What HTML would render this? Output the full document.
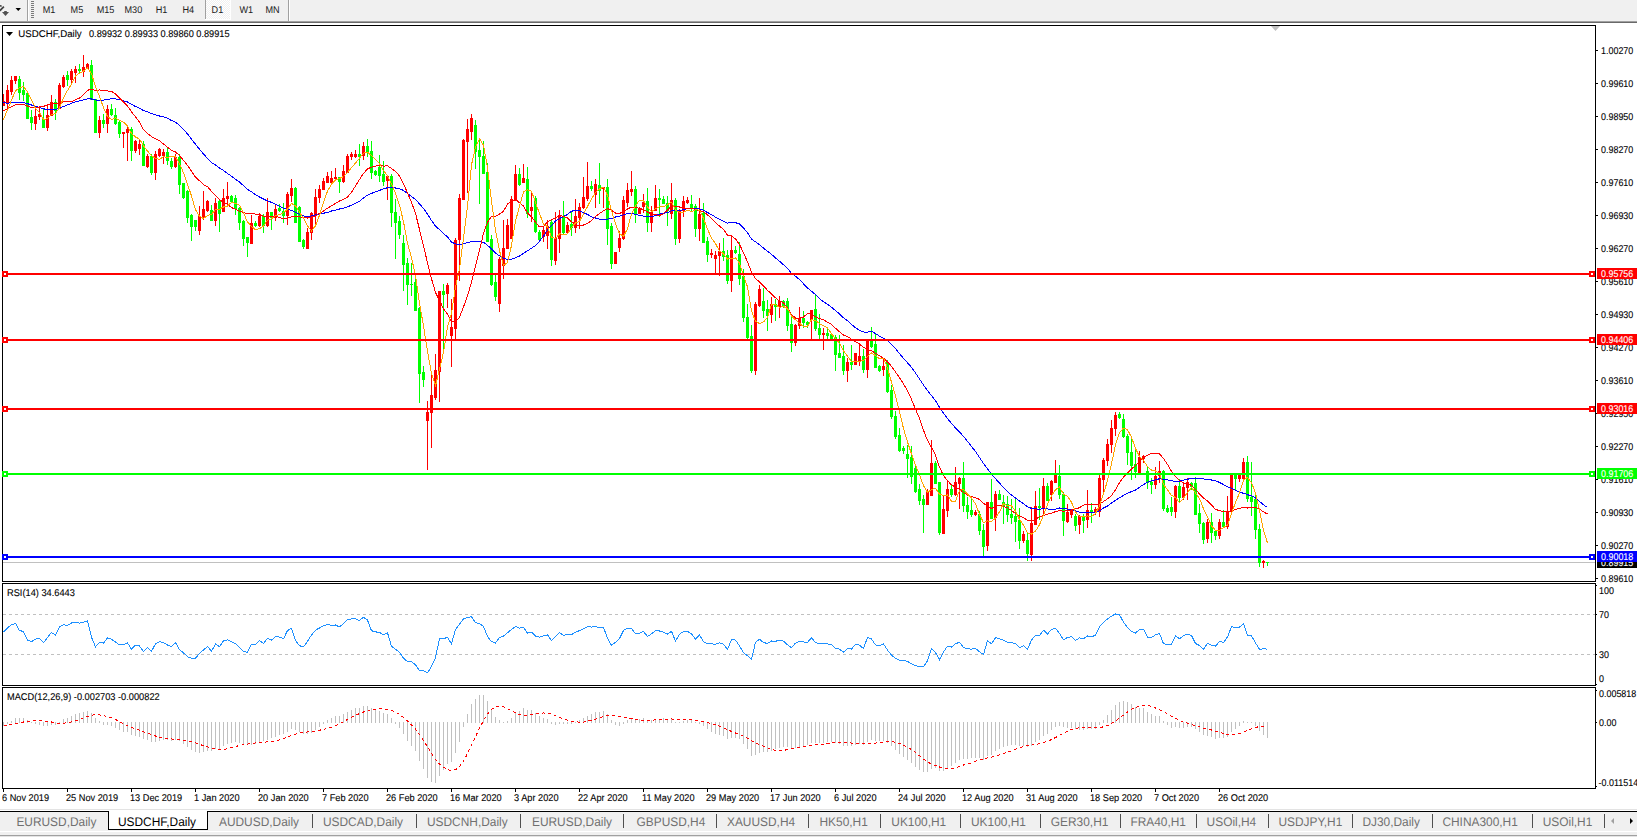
<!DOCTYPE html><html><head><meta charset="utf-8"><style>
html,body{margin:0;padding:0;background:#fff;width:1637px;height:837px;overflow:hidden}
svg{position:absolute;left:0;top:0;display:block}
text{font-family:"Liberation Sans", sans-serif}
</style></head><body>
<svg width="1637" height="837" viewBox="0 0 1637 837">
<rect x="0" y="0" width="1637" height="21" fill="#F0F0F0"/>
<rect x="0" y="21" width="1637" height="1" fill="#A0A0A0"/>
<rect x="0" y="22" width="1637" height="1" fill="#696969"/>
<g shape-rendering="crispEdges">
<rect x="27" y="0" width="1" height="21" fill="#A0A0A0"/>
<rect x="28" y="0" width="1" height="21" fill="#FFFFFF"/>
<rect x="31" y="1" width="3" height="1" fill="#7A7A7A"/>
<rect x="31" y="3" width="3" height="1" fill="#7A7A7A"/>
<rect x="31" y="5" width="3" height="1" fill="#7A7A7A"/>
<rect x="31" y="7" width="3" height="1" fill="#7A7A7A"/>
<rect x="31" y="9" width="3" height="1" fill="#7A7A7A"/>
<rect x="31" y="11" width="3" height="1" fill="#7A7A7A"/>
<rect x="31" y="13" width="3" height="1" fill="#7A7A7A"/>
<rect x="31" y="15" width="3" height="1" fill="#7A7A7A"/>
<rect x="31" y="17" width="3" height="1" fill="#7A7A7A"/>
<defs><pattern id="dith" x="0" y="0" width="2" height="2" patternUnits="userSpaceOnUse"><rect x="0" y="0" width="2" height="2" fill="#F0F0F0"/><rect x="0" y="0" width="1" height="1" fill="#FFFFFF"/><rect x="1" y="1" width="1" height="1" fill="#FFFFFF"/></pattern></defs>
<rect x="205" y="0" width="1" height="19" fill="#A0A0A0"/>
<rect x="206" y="0" width="24" height="19" fill="url(#dith)"/>
<rect x="230" y="0" width="1" height="20" fill="#FFFFFF"/>
<rect x="205" y="19" width="26" height="1" fill="#FFFFFF"/>
<rect x="288" y="0" width="1" height="21" fill="#A0A0A0"/>
<rect x="289" y="0" width="1" height="21" fill="#FFFFFF"/>
</g>
<path d="M-0.3,10.8 L3.9,6.6" stroke="#404040" stroke-width="1.7" fill="none"/>
<path d="M-0.5,5 L1.5,5.2 L2,6.6 L-0.5,6.8 Z" fill="#404040"/>
<path d="M4.2,11 L6.8,11 L6.8,12 L9,12 L5.5,16 L2,12 L4.2,12 Z" fill="#505050"/>
<path d="M15.5,8 L21,8 L18.25,11 Z" fill="#000"/>
<text transform="translate(42.7,13) scale(0.93,1)" font-size="9.8" fill="#202020" text-rendering="geometricPrecision">M1</text>
<text transform="translate(70.6,13) scale(0.93,1)" font-size="9.8" fill="#202020" text-rendering="geometricPrecision">M5</text>
<text transform="translate(96.7,13) scale(0.93,1)" font-size="9.8" fill="#202020" text-rendering="geometricPrecision">M15</text>
<text transform="translate(124.5,13) scale(0.93,1)" font-size="9.8" fill="#202020" text-rendering="geometricPrecision">M30</text>
<text transform="translate(155.7,13) scale(0.93,1)" font-size="9.8" fill="#202020" text-rendering="geometricPrecision">H1</text>
<text transform="translate(182.5,13) scale(0.93,1)" font-size="9.8" fill="#202020" text-rendering="geometricPrecision">H4</text>
<text transform="translate(211.6,13) scale(0.93,1)" font-size="9.8" fill="#202020" text-rendering="geometricPrecision">D1</text>
<text transform="translate(239.4,13) scale(0.93,1)" font-size="9.8" fill="#202020" text-rendering="geometricPrecision">W1</text>
<text transform="translate(265.5,13) scale(0.93,1)" font-size="9.8" fill="#202020" text-rendering="geometricPrecision">MN</text>
<g shape-rendering="crispEdges" fill="none" stroke="#000" stroke-width="1">
<path d="M2.5,25.5 H1595.5 V581.5 H2.5 Z"/>
<path d="M2.5,583.5 H1595.5 V685.5 H2.5 Z"/>
<path d="M2.5,687.5 H1595.5 V788.5 H2.5 Z"/>
</g>
<path d="M1271,26 L1280,26 L1275.5,31 Z" fill="#C0C0C0"/>
<path d="M6,32 L13,32 L9.5,36 Z" fill="#000"/>
<text transform="translate(18.3,37) scale(0.987,1)" font-size="9.8" fill="#000" stroke="#000" stroke-width="0.1" text-rendering="geometricPrecision">USDCHF,Daily</text>
<text transform="translate(89,37) scale(0.938,1)" font-size="9.8" fill="#000" stroke="#000" stroke-width="0.1" text-rendering="geometricPrecision">0.89932 0.89933 0.89860 0.89915</text>
<defs><clipPath id="cm"><rect x="3" y="26" width="1592" height="555"/></clipPath>
<clipPath id="cr"><rect x="3" y="584" width="1592" height="101"/></clipPath>
<clipPath id="cd"><rect x="3" y="688" width="1592" height="100"/></clipPath></defs>
<g clip-path="url(#cm)" shape-rendering="crispEdges">
<rect x="3" y="562" width="1592" height="1" fill="#C0C0C0"/>
</g>
<g clip-path="url(#cm)" shape-rendering="crispEdges">
<path fill="#00FF00" d="M19,76h1v24h-1zM18,79h3v14h-3zM23,82h1v19h-1zM22,90h3v5h-3zM27,93h1v26h-1zM26,93h3v26h-3zM31,110h1v20h-1zM30,117h3v6h-3zM43,108h1v20h-1zM42,119h3v9h-3zM55,99h1v21h-1zM54,102h3v9h-3zM67,71h1v15h-1zM66,75h3v5h-3zM79,64h1v10h-1zM78,69h3v2h-3zM91,60h1v40h-1zM90,65h3v35h-3zM95,99h1v34h-1zM94,99h3v34h-3zM103,114h1v14h-1zM102,120h3v4h-3zM111,104h1v12h-1zM110,109h3v6h-3zM115,108h1v17h-1zM114,115h3v9h-3zM119,120h1v18h-1zM118,122h3v12h-3zM131,127h1v34h-1zM130,129h3v22h-3zM143,141h1v25h-1zM142,144h3v22h-3zM151,154h1v21h-1zM150,156h3v17h-3zM167,148h1v17h-1zM166,152h3v9h-3zM171,158h1v11h-1zM170,161h3v6h-3zM179,154h1v40h-1zM178,157h3v28h-3zM183,183h1v16h-1zM182,183h3v15h-3zM187,190h1v33h-1zM186,191h3v27h-3zM191,214h1v27h-1zM190,215h3v12h-3zM195,220h1v11h-1zM194,220h3v7h-3zM211,205h1v16h-1zM210,210h3v11h-3zM219,199h1v33h-1zM218,201h3v13h-3zM231,195h1v8h-1zM230,196h3v6h-3zM235,195h1v20h-1zM234,198h3v11h-3zM239,207h1v23h-1zM238,208h3v15h-3zM243,220h1v26h-1zM242,221h3v18h-3zM247,237h1v20h-1zM246,237h3v6h-3zM255,221h1v6h-1zM254,223h3v3h-3zM263,214h1v19h-1zM262,216h3v10h-3zM271,212h1v18h-1zM270,212h3v6h-3zM279,204h1v8h-1zM278,208h3v3h-3zM283,203h1v20h-1zM282,211h3v5h-3zM295,187h1v36h-1zM294,188h3v35h-3zM299,206h1v36h-1zM298,207h3v35h-3zM303,239h1v10h-1zM302,240h3v7h-3zM339,177h1v16h-1zM338,177h3v5h-3zM359,144h1v22h-1zM358,154h3v3h-3zM367,139h1v18h-1zM366,146h3v6h-3zM371,141h1v38h-1zM370,151h3v22h-3zM375,170h1v6h-1zM374,171h3v4h-3zM379,155h1v27h-1zM378,167h3v9h-3zM383,161h1v25h-1zM382,174h3v8h-3zM391,174h1v53h-1zM390,176h3v37h-3zM395,199h1v60h-1zM394,212h3v11h-3zM399,216h1v23h-1zM398,221h3v14h-3zM403,235h1v56h-1zM402,243h3v22h-3zM407,258h1v47h-1zM406,263h3v22h-3zM411,263h1v33h-1zM410,284h3v1h-3zM415,279h1v32h-1zM414,282h3v29h-3zM419,307h1v96h-1zM418,308h3v66h-3zM423,366h1v21h-1zM422,372h3v8h-3zM443,284h1v66h-1zM442,291h3v4h-3zM475,120h1v49h-1zM474,125h3v27h-3zM479,138h1v66h-1zM478,150h3v7h-3zM483,141h1v33h-1zM482,156h3v18h-3zM487,163h1v79h-1zM486,172h3v70h-3zM491,235h1v51h-1zM490,239h3v46h-3zM495,275h1v26h-1zM494,282h3v15h-3zM519,168h1v18h-1zM518,174h3v11h-3zM527,167h1v51h-1zM526,179h3v35h-3zM535,196h1v37h-1zM534,198h3v34h-3zM539,230h1v10h-1zM538,232h3v8h-3zM551,220h1v46h-1zM550,222h3v38h-3zM563,201h1v34h-1zM562,217h3v16h-3zM571,212h1v24h-1zM570,224h3v4h-3zM591,181h1v10h-1zM590,186h3v3h-3zM599,163h1v41h-1zM598,185h3v6h-3zM607,179h1v66h-1zM606,187h3v42h-3zM611,223h1v46h-1zM610,226h3v38h-3zM635,186h1v37h-1zM634,189h3v25h-3zM647,188h1v44h-1zM646,201h3v22h-3zM659,189h1v28h-1zM658,198h3v2h-3zM663,196h1v8h-1zM662,199h3v5h-3zM667,196h1v30h-1zM666,203h3v8h-3zM675,198h1v47h-1zM674,200h3v39h-3zM691,195h1v16h-1zM690,204h3v5h-3zM695,204h1v33h-1zM694,206h3v23h-3zM703,203h1v40h-1zM702,213h3v30h-3zM707,237h1v25h-1zM706,241h3v14h-3zM723,238h1v23h-1zM722,251h3v6h-3zM727,250h1v34h-1zM726,255h3v26h-3zM735,246h1v8h-1zM734,250h3v3h-3zM739,242h1v43h-1zM738,254h3v25h-3zM743,269h1v53h-1zM742,276h3v42h-3zM747,304h1v36h-1zM746,317h3v21h-3zM751,325h1v48h-1zM750,336h3v35h-3zM763,288h1v30h-1zM762,301h3v10h-3zM767,300h1v31h-1zM766,309h3v7h-3zM775,299h1v22h-1zM774,304h3v3h-3zM783,300h1v8h-1zM782,301h3v6h-3zM787,298h1v33h-1zM786,301h3v25h-3zM791,317h1v35h-1zM790,324h3v19h-3zM803,311h1v17h-1zM802,318h3v5h-3zM807,321h1v7h-1zM806,322h3v3h-3zM815,295h1v36h-1zM814,309h3v20h-3zM819,314h1v26h-1zM818,328h3v7h-3zM827,327h1v13h-1zM826,333h3v3h-3zM831,334h1v6h-1zM830,334h3v5h-3zM835,335h1v36h-1zM834,337h3v18h-3zM839,335h1v23h-1zM838,353h3v5h-3zM843,345h1v30h-1zM842,356h3v15h-3zM851,345h1v25h-1zM850,362h3v3h-3zM863,349h1v24h-1zM862,356h3v14h-3zM871,327h1v21h-1zM870,341h3v6h-3zM875,334h1v34h-1zM874,344h3v24h-3zM879,365h1v7h-1zM878,366h3v5h-3zM887,360h1v33h-1zM886,362h3v30h-3zM891,385h1v34h-1zM890,390h3v27h-3zM895,411h1v28h-1zM894,416h3v21h-3zM899,428h1v24h-1zM898,435h3v16h-3zM903,446h1v8h-1zM902,448h3v3h-3zM907,445h1v33h-1zM906,454h3v5h-3zM911,446h1v38h-1zM910,457h3v20h-3zM915,466h1v27h-1zM914,468h3v24h-3zM919,484h1v21h-1zM918,489h3v12h-3zM923,495h1v38h-1zM922,499h3v6h-3zM935,461h1v23h-1zM934,463h3v21h-3zM939,482h1v53h-1zM938,482h3v51h-3zM951,485h1v12h-1zM950,489h3v6h-3zM963,462h1v50h-1zM962,478h3v28h-3zM967,497h1v22h-1zM966,505h3v7h-3zM971,499h1v18h-1zM970,510h3v5h-3zM979,511h1v24h-1zM978,514h3v17h-3zM983,524h1v32h-1zM982,530h3v17h-3zM991,479h1v40h-1zM990,502h3v17h-3zM999,490h1v10h-1zM998,494h3v6h-3zM1003,495h1v29h-1zM1002,502h3v5h-3zM1007,496h1v26h-1zM1006,504h3v11h-3zM1011,499h1v25h-1zM1010,514h3v4h-3zM1015,498h1v44h-1zM1014,516h3v6h-3zM1019,508h1v41h-1zM1018,520h3v21h-3zM1027,532h1v29h-1zM1026,540h3v14h-3zM1039,488h1v32h-1zM1038,506h3v2h-3zM1047,483h1v18h-1zM1046,486h3v15h-3zM1059,465h1v34h-1zM1058,476h3v19h-3zM1063,492h1v44h-1zM1062,494h3v27h-3zM1075,514h1v17h-1zM1074,516h3v10h-3zM1083,514h1v19h-1zM1082,516h3v5h-3zM1091,503h1v20h-1zM1090,510h3v3h-3zM1119,412h1v7h-1zM1118,414h3v4h-3zM1123,414h1v24h-1zM1122,419h3v18h-3zM1127,434h1v31h-1zM1126,436h3v17h-3zM1131,439h1v41h-1zM1130,452h3v14h-3zM1135,450h1v28h-1zM1134,464h3v8h-3zM1147,467h1v22h-1zM1146,471h3v12h-3zM1151,478h1v16h-1zM1150,482h3v3h-3zM1163,470h1v41h-1zM1162,471h3v38h-3zM1167,505h1v8h-1zM1166,508h3v4h-3zM1171,497h1v19h-1zM1170,507h3v5h-3zM1179,479h1v23h-1zM1178,486h3v12h-3zM1191,482h1v8h-1zM1190,483h3v4h-3zM1195,477h1v38h-1zM1194,483h3v32h-3zM1199,504h1v29h-1zM1198,513h3v11h-3zM1203,522h1v22h-1zM1202,523h3v17h-3zM1211,513h1v30h-1zM1210,522h3v11h-3zM1215,530h1v10h-1zM1214,531h3v5h-3zM1223,510h1v18h-1zM1222,522h3v5h-3zM1235,474h1v16h-1zM1234,475h3v4h-3zM1247,456h1v46h-1zM1246,462h3v37h-3zM1251,462h1v54h-1zM1250,497h3v5h-3zM1255,495h1v44h-1zM1254,499h3v31h-3zM1259,524h1v43h-1zM1258,529h3v34h-3zM1267,562h1v4h-1zM1266,562h3v1h-3z"/>
<path fill="#FF0000" d="M3,94h1v12h-1zM2,101h3v5h-3zM7,85h1v24h-1zM6,90h3v13h-3zM11,76h1v19h-1zM10,80h3v12h-3zM15,76h1v8h-1zM14,76h3v5h-3zM35,108h1v22h-1zM34,116h3v8h-3zM39,108h1v12h-1zM38,114h3v3h-3zM47,104h1v27h-1zM46,115h3v13h-3zM51,95h1v21h-1zM50,102h3v14h-3zM59,83h1v26h-1zM58,85h3v24h-3zM63,75h1v13h-1zM62,77h3v10h-3zM71,69h1v14h-1zM70,71h3v9h-3zM75,66h1v17h-1zM74,69h3v4h-3zM83,55h1v22h-1zM82,67h3v5h-3zM87,63h1v6h-1zM86,64h3v5h-3zM99,116h1v22h-1zM98,120h3v13h-3zM107,105h1v28h-1zM106,109h3v15h-3zM123,132h1v16h-1zM122,132h3v2h-3zM127,127h1v34h-1zM126,129h3v4h-3zM135,140h1v13h-1zM134,141h3v10h-3zM139,140h1v15h-1zM138,144h3v5h-3zM147,154h1v14h-1zM146,156h3v11h-3zM155,151h1v29h-1zM154,154h3v19h-3zM159,148h1v9h-1zM158,149h3v7h-3zM163,149h1v15h-1zM162,152h3v4h-3zM175,154h1v14h-1zM174,157h3v10h-3zM199,206h1v29h-1zM198,216h3v15h-3zM203,191h1v29h-1zM202,209h3v9h-3zM207,200h1v12h-1zM206,201h3v10h-3zM215,198h1v28h-1zM214,203h3v18h-3zM223,189h1v23h-1zM222,198h3v14h-3zM227,182h1v23h-1zM226,196h3v3h-3zM251,215h1v29h-1zM250,223h3v21h-3zM259,213h1v14h-1zM258,216h3v10h-3zM267,198h1v29h-1zM266,212h3v14h-3zM275,205h1v16h-1zM274,209h3v9h-3zM287,192h1v33h-1zM286,194h3v22h-3zM291,179h1v23h-1zM290,188h3v8h-3zM307,228h1v21h-1zM306,232h3v17h-3zM311,212h1v28h-1zM310,213h3v20h-3zM315,189h1v35h-1zM314,197h3v19h-3zM319,185h1v18h-1zM318,189h3v9h-3zM323,178h1v12h-1zM322,181h3v9h-3zM327,172h1v11h-1zM326,176h3v7h-3zM331,171h1v12h-1zM330,178h3v5h-3zM335,168h1v13h-1zM334,177h3v2h-3zM343,165h1v18h-1zM342,171h3v11h-3zM347,154h1v19h-1zM346,156h3v17h-3zM351,152h1v8h-1zM350,154h3v3h-3zM355,150h1v8h-1zM354,154h3v3h-3zM363,142h1v18h-1zM362,146h3v10h-3zM387,175h1v25h-1zM386,176h3v5h-3zM427,401h1v69h-1zM426,412h3v9h-3zM431,375h1v73h-1zM430,395h3v18h-3zM435,354h1v46h-1zM434,370h3v28h-3zM439,291h1v111h-1zM438,291h3v81h-3zM447,283h1v25h-1zM446,285h3v9h-3zM451,299h1v68h-1zM450,327h3v9h-3zM455,238h1v102h-1zM454,240h3v89h-3zM459,194h1v87h-1zM458,198h3v42h-3zM463,139h1v61h-1zM462,140h3v60h-3zM467,119h1v74h-1zM466,129h3v13h-3zM471,114h1v26h-1zM470,118h3v14h-3zM499,257h1v55h-1zM498,259h3v45h-3zM503,220h1v59h-1zM502,248h3v18h-3zM507,219h1v30h-1zM506,225h3v24h-3zM511,196h1v43h-1zM510,199h3v40h-3zM515,165h1v36h-1zM514,174h3v27h-3zM523,164h1v19h-1zM522,178h3v5h-3zM531,192h1v30h-1zM530,207h3v4h-3zM543,226h1v16h-1zM542,230h3v7h-3zM547,220h1v29h-1zM546,226h3v10h-3zM555,212h1v53h-1zM554,238h3v23h-3zM559,210h1v43h-1zM558,215h3v24h-3zM567,222h1v11h-1zM566,225h3v8h-3zM575,199h1v34h-1zM574,216h3v12h-3zM579,203h1v26h-1zM578,207h3v11h-3zM583,177h1v32h-1zM582,197h3v11h-3zM587,162h1v39h-1zM586,186h3v13h-3zM595,179h1v29h-1zM594,184h3v11h-3zM603,187h1v21h-1zM602,187h3v2h-3zM615,252h1v12h-1zM614,252h3v12h-3zM619,231h1v21h-1zM618,238h3v10h-3zM623,196h1v44h-1zM622,200h3v39h-3zM627,183h1v24h-1zM626,190h3v13h-3zM631,171h1v25h-1zM630,189h3v3h-3zM639,207h1v7h-1zM638,209h3v5h-3zM643,194h1v19h-1zM642,202h3v5h-3zM651,206h1v26h-1zM650,212h3v11h-3zM655,185h1v26h-1zM654,198h3v13h-3zM671,183h1v36h-1zM670,200h3v14h-3zM679,209h1v34h-1zM678,211h3v28h-3zM683,196h1v21h-1zM682,201h3v10h-3zM687,197h1v7h-1zM686,200h3v3h-3zM699,198h1v43h-1zM698,214h3v15h-3zM711,249h1v9h-1zM710,253h3v2h-3zM715,251h1v24h-1zM714,255h3v4h-3zM719,243h1v33h-1zM718,251h3v5h-3zM731,236h1v56h-1zM730,250h3v31h-3zM755,302h1v73h-1zM754,304h3v67h-3zM759,285h1v22h-1zM758,289h3v17h-3zM771,297h1v26h-1zM770,304h3v11h-3zM779,296h1v22h-1zM778,301h3v6h-3zM795,324h1v22h-1zM794,325h3v18h-3zM799,307h1v22h-1zM798,318h3v8h-3zM811,310h1v31h-1zM810,310h3v10h-3zM823,328h1v22h-1zM822,333h3v2h-3zM847,358h1v24h-1zM846,362h3v9h-3zM855,353h1v12h-1zM854,353h3v12h-3zM859,343h1v23h-1zM858,356h3v5h-3zM867,340h1v38h-1zM866,341h3v29h-3zM883,358h1v18h-1zM882,366h3v4h-3zM927,489h1v16h-1zM926,491h3v14h-3zM931,440h1v56h-1zM930,463h3v33h-3zM943,496h1v38h-1zM942,509h3v25h-3zM947,481h1v36h-1zM946,489h3v22h-3zM955,467h1v29h-1zM954,482h3v13h-3zM959,477h1v32h-1zM958,478h3v6h-3zM975,510h1v6h-1zM974,512h3v3h-3zM987,502h1v49h-1zM986,502h3v44h-3zM995,491h1v40h-1zM994,494h3v24h-3zM1023,531h1v12h-1zM1022,534h3v7h-3zM1031,507h1v54h-1zM1030,523h3v32h-3zM1035,491h1v34h-1zM1034,506h3v19h-3zM1043,478h1v37h-1zM1042,486h3v22h-3zM1051,480h1v21h-1zM1050,481h3v14h-3zM1055,460h1v23h-1zM1054,475h3v8h-3zM1067,504h1v19h-1zM1066,512h3v10h-3zM1071,510h1v8h-1zM1070,510h3v5h-3zM1079,515h1v19h-1zM1078,516h3v9h-3zM1087,490h1v38h-1zM1086,510h3v10h-3zM1095,507h1v8h-1zM1094,509h3v4h-3zM1099,475h1v42h-1zM1098,478h3v34h-3zM1103,458h1v34h-1zM1102,460h3v20h-3zM1107,439h1v27h-1zM1106,444h3v17h-3zM1111,420h1v33h-1zM1110,428h3v17h-3zM1115,412h1v24h-1zM1114,415h3v14h-3zM1139,451h1v22h-1zM1138,457h3v16h-3zM1143,455h1v8h-1zM1142,456h3v3h-3zM1155,467h1v22h-1zM1154,476h3v9h-3zM1159,461h1v22h-1zM1158,471h3v5h-3zM1175,485h1v33h-1zM1174,486h3v26h-3zM1183,483h1v17h-1zM1182,487h3v11h-3zM1187,478h1v22h-1zM1186,482h3v6h-3zM1207,519h1v24h-1zM1206,522h3v17h-3zM1219,519h1v20h-1zM1218,522h3v14h-3zM1227,496h1v33h-1zM1226,511h3v16h-3zM1231,474h1v39h-1zM1230,474h3v38h-3zM1239,474h1v8h-1zM1238,475h3v4h-3zM1243,458h1v21h-1zM1242,462h3v17h-3zM1263,560h1v8h-1zM1262,561h3v2h-3z"/>
</g>
<polyline clip-path="url(#cm)" fill="none" stroke="#0000FF" stroke-width="1" points="-0.5,103.1 3.5,102.9 7.5,103.1 11.5,102.8 15.5,102.4 19.5,102.4 23.5,102.6 27.5,103.7 31.5,105.0 35.5,106.2 39.5,107.4 43.5,108.8 47.5,109.7 51.5,109.7 55.5,109.6 59.5,108.3 63.5,106.5 67.5,104.9 71.5,103.3 75.5,101.9 79.5,100.8 83.5,99.9 87.5,98.9 91.5,99.0 95.5,100.0 99.5,100.3 103.5,100.2 107.5,99.3 111.5,98.8 115.5,98.8 119.5,99.7 123.5,100.7 127.5,102.0 131.5,104.3 135.5,106.5 139.5,108.3 143.5,110.6 147.5,111.9 151.5,113.6 155.5,114.8 159.5,116.0 163.5,116.8 167.5,118.3 171.5,120.5 175.5,122.1 179.5,125.3 183.5,129.3 187.5,133.9 191.5,139.1 195.5,144.3 199.5,149.2 203.5,153.9 207.5,158.5 211.5,162.5 215.5,164.9 219.5,168.0 223.5,170.5 227.5,173.4 231.5,176.3 235.5,179.2 239.5,182.1 243.5,185.6 247.5,189.4 251.5,191.8 255.5,194.6 259.5,197.0 263.5,199.0 267.5,200.9 271.5,202.4 275.5,204.2 279.5,206.2 283.5,208.3 287.5,209.5 291.5,210.2 295.5,212.4 299.5,214.3 303.5,215.9 307.5,216.4 311.5,216.0 315.5,215.0 319.5,214.1 323.5,213.2 327.5,212.4 331.5,211.0 335.5,210.1 339.5,209.0 343.5,208.1 347.5,206.8 351.5,205.2 355.5,203.4 359.5,201.2 363.5,198.1 367.5,195.1 371.5,193.4 375.5,191.7 379.5,190.4 383.5,188.9 387.5,187.7 391.5,187.5 395.5,188.0 399.5,188.8 403.5,190.4 407.5,193.4 411.5,196.6 415.5,199.5 419.5,203.9 423.5,208.4 427.5,214.3 431.5,220.4 435.5,226.2 439.5,229.6 443.5,233.4 447.5,237.0 451.5,242.0 455.5,244.0 459.5,244.6 463.5,243.6 467.5,242.7 471.5,241.5 475.5,241.4 479.5,241.4 483.5,242.3 487.5,245.3 491.5,249.0 495.5,253.1 499.5,255.9 503.5,258.1 507.5,259.7 511.5,259.3 515.5,257.7 519.5,256.1 523.5,253.2 527.5,250.8 531.5,248.2 535.5,245.6 539.5,241.2 543.5,236.2 547.5,230.0 551.5,225.5 555.5,221.1 559.5,218.6 563.5,216.5 567.5,214.5 571.5,211.2 575.5,210.4 579.5,210.7 583.5,212.6 587.5,214.5 591.5,216.8 595.5,218.0 599.5,219.1 603.5,219.6 607.5,219.1 611.5,218.4 615.5,217.0 619.5,216.3 623.5,214.7 627.5,213.5 631.5,213.2 635.5,214.5 639.5,215.3 643.5,216.1 647.5,216.4 651.5,216.6 655.5,215.5 659.5,214.2 663.5,213.3 667.5,212.7 671.5,210.8 675.5,210.7 679.5,210.6 683.5,209.6 687.5,208.7 691.5,208.1 695.5,208.5 699.5,208.8 703.5,210.3 707.5,212.5 711.5,214.7 715.5,217.1 719.5,219.1 723.5,221.4 727.5,223.1 731.5,222.7 735.5,222.7 739.5,224.0 743.5,227.9 747.5,232.8 751.5,238.9 755.5,241.9 759.5,244.6 763.5,248.1 767.5,251.2 771.5,254.3 775.5,257.9 779.5,261.3 783.5,264.7 787.5,268.5 791.5,273.3 795.5,276.2 799.5,279.7 803.5,283.8 807.5,287.9 811.5,291.3 815.5,294.6 819.5,298.6 823.5,301.7 827.5,304.4 831.5,307.2 835.5,310.5 839.5,314.0 843.5,317.8 847.5,320.6 851.5,324.4 855.5,327.7 859.5,330.3 863.5,332.0 867.5,332.2 871.5,331.3 875.5,333.5 879.5,336.2 883.5,338.1 887.5,340.6 891.5,344.3 895.5,348.7 899.5,353.6 903.5,358.4 907.5,362.8 911.5,367.3 915.5,372.9 919.5,378.9 923.5,385.0 927.5,390.5 931.5,395.6 935.5,400.8 939.5,407.4 943.5,413.2 947.5,418.4 951.5,423.6 955.5,427.9 959.5,431.9 963.5,436.4 967.5,441.3 971.5,446.4 975.5,451.6 979.5,457.5 983.5,463.4 987.5,468.7 991.5,474.5 995.5,478.7 999.5,483.0 1003.5,487.6 1007.5,491.7 1011.5,495.1 1015.5,497.9 1019.5,500.9 1023.5,503.7 1027.5,506.9 1031.5,508.4 1035.5,508.9 1039.5,509.2 1043.5,508.6 1047.5,508.9 1051.5,509.5 1055.5,509.2 1059.5,508.0 1063.5,508.3 1067.5,509.1 1071.5,509.6 1075.5,511.0 1079.5,512.3 1083.5,512.8 1087.5,512.8 1091.5,512.7 1095.5,512.6 1099.5,510.9 1103.5,508.0 1107.5,506.1 1111.5,503.1 1115.5,500.4 1119.5,497.7 1123.5,495.4 1127.5,493.3 1131.5,491.6 1135.5,490.0 1139.5,487.2 1143.5,484.6 1147.5,482.3 1151.5,480.9 1155.5,479.9 1159.5,478.7 1163.5,479.5 1167.5,479.9 1171.5,480.9 1175.5,481.2 1179.5,481.3 1183.5,480.2 1187.5,479.2 1191.5,478.4 1195.5,478.1 1199.5,478.3 1203.5,478.9 1207.5,479.4 1211.5,480.0 1215.5,480.9 1219.5,482.4 1223.5,484.6 1227.5,486.8 1231.5,488.3 1235.5,490.4 1239.5,492.4 1243.5,493.2 1247.5,494.7 1251.5,495.9 1255.5,497.9 1259.5,501.4 1263.5,504.8 1267.5,507.5" shape-rendering="crispEdges"/>
<polyline clip-path="url(#cm)" fill="none" stroke="#FF0000" stroke-width="1" points="-0.5,112.7 3.5,110.9 7.5,108.8 11.5,106.6 15.5,104.7 19.5,104.4 23.5,104.4 27.5,106.0 31.5,107.5 35.5,107.8 39.5,107.0 43.5,106.3 47.5,105.2 51.5,103.8 55.5,104.0 59.5,102.9 63.5,101.9 67.5,101.9 71.5,101.5 75.5,99.8 79.5,98.1 83.5,94.5 87.5,90.3 91.5,89.1 95.5,90.4 99.5,89.9 103.5,90.5 107.5,91.0 111.5,91.3 115.5,94.0 119.5,98.0 123.5,101.8 127.5,106.0 131.5,111.8 135.5,116.8 139.5,122.3 143.5,129.6 147.5,133.6 151.5,136.5 155.5,138.9 159.5,140.8 163.5,143.9 167.5,147.2 171.5,150.3 175.5,152.0 179.5,155.6 183.5,160.5 187.5,165.3 191.5,171.3 195.5,177.2 199.5,180.8 203.5,184.6 207.5,186.7 211.5,191.3 215.5,195.2 219.5,199.5 223.5,202.3 227.5,204.4 231.5,207.6 235.5,209.3 239.5,211.1 243.5,212.6 247.5,213.7 251.5,213.5 255.5,214.1 259.5,214.6 263.5,216.3 267.5,215.8 271.5,216.8 275.5,216.5 279.5,217.4 283.5,218.7 287.5,218.2 291.5,216.8 295.5,216.8 299.5,217.0 303.5,217.4 307.5,218.0 311.5,217.2 315.5,215.8 319.5,213.2 323.5,211.0 327.5,208.1 331.5,205.8 335.5,203.4 339.5,201.0 343.5,199.4 347.5,197.0 351.5,192.2 355.5,185.9 359.5,179.5 363.5,173.4 367.5,168.9 371.5,167.1 375.5,166.1 379.5,165.7 383.5,166.1 387.5,165.9 391.5,168.5 395.5,171.4 399.5,175.9 403.5,183.7 407.5,193.0 411.5,202.3 415.5,213.3 419.5,229.5 423.5,245.8 427.5,262.9 431.5,278.7 435.5,292.6 439.5,300.4 443.5,308.8 447.5,314.1 451.5,321.5 455.5,321.9 459.5,317.2 463.5,306.9 467.5,295.8 471.5,282.1 475.5,266.2 479.5,250.3 483.5,233.3 487.5,222.3 491.5,216.1 495.5,216.5 499.5,214.0 503.5,211.3 507.5,204.1 511.5,201.2 515.5,199.5 519.5,202.7 523.5,206.1 527.5,212.9 531.5,216.9 535.5,222.3 539.5,227.0 543.5,226.3 547.5,222.1 551.5,219.5 555.5,218.1 559.5,215.7 563.5,216.2 567.5,218.0 571.5,221.8 575.5,224.1 579.5,226.2 583.5,225.0 587.5,223.5 591.5,220.4 595.5,216.5 599.5,213.6 603.5,210.8 607.5,208.6 611.5,210.4 615.5,213.0 619.5,213.4 623.5,211.7 627.5,209.0 631.5,207.1 635.5,207.6 639.5,208.4 643.5,209.6 647.5,212.0 651.5,214.0 655.5,214.6 659.5,215.5 663.5,213.7 667.5,209.9 671.5,206.2 675.5,206.2 679.5,207.0 683.5,207.8 687.5,208.5 691.5,208.2 695.5,209.6 699.5,210.4 703.5,211.8 707.5,214.8 711.5,218.7 715.5,222.7 719.5,226.1 723.5,229.4 727.5,235.1 731.5,236.0 735.5,238.9 739.5,244.4 743.5,252.8 747.5,262.0 751.5,272.1 755.5,278.6 759.5,281.9 763.5,285.9 767.5,290.3 771.5,293.8 775.5,297.8 779.5,301.0 783.5,302.8 787.5,308.2 791.5,314.6 795.5,318.0 799.5,318.0 803.5,317.0 807.5,313.6 811.5,314.1 815.5,316.9 819.5,318.6 823.5,319.9 827.5,322.1 831.5,324.4 835.5,328.2 839.5,331.8 843.5,335.0 847.5,336.5 851.5,339.2 855.5,341.7 859.5,344.1 863.5,347.3 867.5,349.6 871.5,350.9 875.5,353.2 879.5,355.9 883.5,358.1 887.5,361.9 891.5,366.3 895.5,372.0 899.5,377.7 903.5,383.9 907.5,390.7 911.5,399.4 915.5,409.1 919.5,418.5 923.5,430.1 927.5,440.5 931.5,447.3 935.5,455.3 939.5,467.2 943.5,475.6 947.5,480.7 951.5,484.9 955.5,487.2 959.5,489.2 963.5,492.6 967.5,495.1 971.5,496.7 975.5,497.6 979.5,499.5 983.5,503.4 987.5,506.2 991.5,508.7 995.5,506.0 999.5,505.3 1003.5,506.5 1007.5,507.9 1011.5,510.4 1015.5,513.4 1019.5,515.9 1023.5,517.6 1027.5,520.3 1031.5,521.1 1035.5,519.4 1039.5,516.6 1043.5,515.5 1047.5,514.2 1051.5,513.2 1055.5,511.6 1059.5,510.8 1063.5,511.2 1067.5,510.8 1071.5,510.0 1075.5,508.9 1079.5,507.7 1083.5,505.2 1087.5,504.3 1091.5,504.8 1095.5,504.9 1099.5,504.3 1103.5,501.5 1107.5,498.9 1111.5,495.5 1115.5,489.8 1119.5,482.5 1123.5,477.1 1127.5,473.0 1131.5,468.8 1135.5,465.6 1139.5,461.1 1143.5,457.3 1147.5,455.1 1151.5,453.3 1155.5,453.2 1159.5,453.9 1163.5,458.5 1167.5,464.5 1171.5,471.3 1175.5,476.3 1179.5,480.5 1183.5,483.0 1187.5,484.2 1191.5,485.3 1195.5,489.3 1199.5,494.1 1203.5,498.1 1207.5,500.9 1211.5,504.9 1215.5,509.5 1219.5,510.5 1223.5,511.6 1227.5,511.6 1231.5,510.8 1235.5,509.4 1239.5,508.6 1243.5,507.1 1247.5,508.0 1251.5,507.1 1255.5,507.5 1259.5,509.1 1263.5,511.9 1267.5,514.0" shape-rendering="crispEdges"/>
<polyline clip-path="url(#cm)" fill="none" stroke="#FFA500" stroke-width="1" points="-0.5,124.2 3.5,119.2 7.5,109.9 11.5,99.9 15.5,90.8 19.5,87.7 23.5,86.4 27.5,91.9 31.5,100.3 35.5,108.4 39.5,112.8 43.5,119.3 47.5,118.8 51.5,114.8 55.5,113.5 59.5,107.7 63.5,97.7 67.5,90.5 71.5,84.3 75.5,76.1 79.5,73.1 83.5,71.1 87.5,68.0 91.5,73.8 95.5,86.4 99.5,96.4 103.5,107.6 107.5,116.6 111.5,119.5 115.5,117.8 119.5,120.4 123.5,122.2 127.5,126.2 131.5,133.4 135.5,137.0 139.5,139.1 143.5,145.7 147.5,151.1 151.5,155.6 155.5,158.3 159.5,159.4 163.5,156.7 167.5,157.5 171.5,156.3 175.5,156.8 179.5,163.7 183.5,172.7 187.5,184.1 191.5,196.0 195.5,209.7 199.5,216.3 203.5,218.6 207.5,215.4 211.5,214.3 215.5,209.7 219.5,209.1 223.5,207.0 227.5,206.0 231.5,202.3 235.5,203.3 239.5,205.1 243.5,212.9 247.5,222.0 251.5,226.4 255.5,229.8 259.5,228.6 263.5,226.0 267.5,220.1 271.5,218.9 275.5,215.8 279.5,214.7 283.5,212.7 287.5,209.1 291.5,203.3 295.5,205.8 299.5,212.0 303.5,218.3 307.5,225.8 311.5,230.8 315.5,225.8 319.5,215.3 323.5,202.3 327.5,191.1 331.5,184.1 335.5,180.0 339.5,178.5 343.5,176.5 347.5,172.4 351.5,167.6 355.5,163.0 359.5,158.1 363.5,153.1 367.5,152.1 371.5,155.7 375.5,159.8 379.5,163.6 383.5,170.6 387.5,175.7 391.5,183.7 395.5,193.2 399.5,205.0 403.5,221.7 407.5,243.3 411.5,257.8 415.5,275.3 419.5,303.0 423.5,326.0 427.5,351.4 431.5,373.6 435.5,385.7 439.5,369.3 443.5,352.3 447.5,327.0 451.5,313.3 455.5,287.2 459.5,268.6 463.5,237.9 467.5,206.6 471.5,164.8 475.5,147.1 479.5,138.7 483.5,145.3 487.5,167.7 491.5,200.9 495.5,230.0 499.5,250.6 503.5,265.6 507.5,262.4 511.5,245.5 515.5,221.1 519.5,206.2 523.5,192.1 527.5,189.7 531.5,191.2 535.5,202.6 539.5,213.6 543.5,224.1 547.5,226.7 551.5,237.2 555.5,238.6 559.5,233.9 563.5,234.3 567.5,234.0 571.5,227.5 575.5,223.0 579.5,221.3 583.5,214.2 587.5,206.5 591.5,198.8 595.5,192.4 599.5,189.0 603.5,187.1 607.5,195.4 611.5,210.4 615.5,224.1 619.5,233.7 623.5,236.4 627.5,228.8 631.5,213.9 635.5,206.0 639.5,200.2 643.5,200.6 647.5,207.1 651.5,211.7 655.5,208.8 659.5,206.8 663.5,207.0 667.5,204.6 671.5,202.2 675.5,210.2 679.5,212.5 683.5,212.1 687.5,210.1 691.5,211.7 695.5,209.7 699.5,210.3 703.5,218.4 707.5,229.2 711.5,238.2 715.5,243.6 719.5,251.0 723.5,253.8 727.5,259.1 731.5,258.5 735.5,257.9 739.5,263.2 743.5,275.4 747.5,286.9 751.5,311.0 755.5,321.3 759.5,323.5 763.5,321.9 767.5,317.5 771.5,304.3 775.5,304.8 779.5,307.2 783.5,306.5 787.5,308.5 791.5,315.9 795.5,319.8 799.5,323.3 803.5,326.6 807.5,326.3 811.5,319.8 815.5,320.4 819.5,323.6 823.5,325.8 827.5,328.0 831.5,333.7 835.5,338.9 839.5,343.3 843.5,350.8 847.5,356.2 851.5,361.4 855.5,361.2 859.5,361.1 863.5,360.8 867.5,356.5 871.5,352.9 875.5,355.8 879.5,358.7 883.5,358.1 887.5,368.1 891.5,382.2 895.5,395.9 899.5,411.8 903.5,428.6 907.5,442.0 911.5,454.0 915.5,465.0 919.5,475.0 923.5,485.7 927.5,492.4 931.5,489.8 935.5,488.1 939.5,494.4 943.5,495.4 947.5,494.9 951.5,501.3 955.5,501.2 959.5,490.4 963.5,489.6 967.5,494.1 971.5,498.1 975.5,504.0 979.5,514.4 983.5,522.7 987.5,520.9 991.5,521.6 995.5,518.0 999.5,511.7 1003.5,503.6 1007.5,506.0 1011.5,505.9 1015.5,511.3 1019.5,519.5 1023.5,525.1 1027.5,532.9 1031.5,534.1 1035.5,531.1 1039.5,524.7 1043.5,515.1 1047.5,504.3 1051.5,495.9 1055.5,489.7 1059.5,487.1 1063.5,494.0 1067.5,496.4 1071.5,502.2 1075.5,512.1 1079.5,516.4 1083.5,516.2 1087.5,516.0 1091.5,516.5 1095.5,513.4 1099.5,505.8 1103.5,493.9 1107.5,480.6 1111.5,463.7 1115.5,445.0 1119.5,432.8 1123.5,428.1 1127.5,429.8 1131.5,437.2 1135.5,448.4 1139.5,456.4 1143.5,460.4 1147.5,466.4 1151.5,470.1 1155.5,471.0 1159.5,473.8 1163.5,484.2 1167.5,489.9 1171.5,495.4 1175.5,497.5 1179.5,502.6 1183.5,498.2 1187.5,492.5 1191.5,487.5 1195.5,493.0 1199.5,498.4 1203.5,508.8 1207.5,516.8 1211.5,526.0 1215.5,530.3 1219.5,530.2 1223.5,527.6 1227.5,525.3 1231.5,513.8 1235.5,502.3 1239.5,492.9 1243.5,480.1 1247.5,477.4 1251.5,482.7 1255.5,493.0 1259.5,510.3 1263.5,530.1 1267.5,543.0" shape-rendering="crispEdges"/>
<g shape-rendering="crispEdges">
<rect x="3" y="273" width="1592" height="2" fill="#FF0000"/>
<rect x="2" y="271" width="6" height="6" fill="#FF0000"/>
<rect x="4" y="273" width="2" height="2" fill="#FFFFFF"/>
<rect x="1589" y="271" width="6" height="6" fill="#FF0000"/>
<rect x="1591" y="273" width="2" height="2" fill="#FFFFFF"/>
<rect x="3" y="339" width="1592" height="2" fill="#FF0000"/>
<rect x="2" y="337" width="6" height="6" fill="#FF0000"/>
<rect x="4" y="339" width="2" height="2" fill="#FFFFFF"/>
<rect x="1589" y="337" width="6" height="6" fill="#FF0000"/>
<rect x="1591" y="339" width="2" height="2" fill="#FFFFFF"/>
<rect x="3" y="408" width="1592" height="2" fill="#FF0000"/>
<rect x="2" y="406" width="6" height="6" fill="#FF0000"/>
<rect x="4" y="408" width="2" height="2" fill="#FFFFFF"/>
<rect x="1589" y="406" width="6" height="6" fill="#FF0000"/>
<rect x="1591" y="408" width="2" height="2" fill="#FFFFFF"/>
<rect x="3" y="473" width="1592" height="2" fill="#00FF00"/>
<rect x="2" y="471" width="6" height="6" fill="#00FF00"/>
<rect x="4" y="473" width="2" height="2" fill="#FFFFFF"/>
<rect x="1589" y="471" width="6" height="6" fill="#00FF00"/>
<rect x="1591" y="473" width="2" height="2" fill="#FFFFFF"/>
<rect x="3" y="556" width="1592" height="2" fill="#0000FF"/>
<rect x="2" y="554" width="6" height="6" fill="#0000FF"/>
<rect x="4" y="556" width="2" height="2" fill="#FFFFFF"/>
<rect x="1589" y="554" width="6" height="6" fill="#0000FF"/>
<rect x="1591" y="556" width="2" height="2" fill="#FFFFFF"/>
</g>
<g shape-rendering="crispEdges">
<rect x="1596" y="50" width="2" height="1" fill="#000"/>
<rect x="1596" y="83" width="2" height="1" fill="#000"/>
<rect x="1596" y="116" width="2" height="1" fill="#000"/>
<rect x="1596" y="149" width="2" height="1" fill="#000"/>
<rect x="1596" y="182" width="2" height="1" fill="#000"/>
<rect x="1596" y="215" width="2" height="1" fill="#000"/>
<rect x="1596" y="248" width="2" height="1" fill="#000"/>
<rect x="1596" y="281" width="2" height="1" fill="#000"/>
<rect x="1596" y="314" width="2" height="1" fill="#000"/>
<rect x="1596" y="347" width="2" height="1" fill="#000"/>
<rect x="1596" y="380" width="2" height="1" fill="#000"/>
<rect x="1596" y="413" width="2" height="1" fill="#000"/>
<rect x="1596" y="446" width="2" height="1" fill="#000"/>
<rect x="1596" y="479" width="2" height="1" fill="#000"/>
<rect x="1596" y="512" width="2" height="1" fill="#000"/>
<rect x="1596" y="545" width="2" height="1" fill="#000"/>
<rect x="1596" y="578" width="2" height="1" fill="#000"/>
</g>
<text transform="translate(1601,54) scale(0.912,1)" font-size="9.8" fill="#000" stroke="#000" stroke-width="0.1" text-rendering="geometricPrecision">1.00270</text>
<text transform="translate(1601,87) scale(0.912,1)" font-size="9.8" fill="#000" stroke="#000" stroke-width="0.1" text-rendering="geometricPrecision">0.99610</text>
<text transform="translate(1601,120) scale(0.912,1)" font-size="9.8" fill="#000" stroke="#000" stroke-width="0.1" text-rendering="geometricPrecision">0.98950</text>
<text transform="translate(1601,153) scale(0.912,1)" font-size="9.8" fill="#000" stroke="#000" stroke-width="0.1" text-rendering="geometricPrecision">0.98270</text>
<text transform="translate(1601,186) scale(0.912,1)" font-size="9.8" fill="#000" stroke="#000" stroke-width="0.1" text-rendering="geometricPrecision">0.97610</text>
<text transform="translate(1601,219) scale(0.912,1)" font-size="9.8" fill="#000" stroke="#000" stroke-width="0.1" text-rendering="geometricPrecision">0.96930</text>
<text transform="translate(1601,252) scale(0.912,1)" font-size="9.8" fill="#000" stroke="#000" stroke-width="0.1" text-rendering="geometricPrecision">0.96270</text>
<text transform="translate(1601,285) scale(0.912,1)" font-size="9.8" fill="#000" stroke="#000" stroke-width="0.1" text-rendering="geometricPrecision">0.95610</text>
<text transform="translate(1601,318) scale(0.912,1)" font-size="9.8" fill="#000" stroke="#000" stroke-width="0.1" text-rendering="geometricPrecision">0.94930</text>
<text transform="translate(1601,351) scale(0.912,1)" font-size="9.8" fill="#000" stroke="#000" stroke-width="0.1" text-rendering="geometricPrecision">0.94270</text>
<text transform="translate(1601,384) scale(0.912,1)" font-size="9.8" fill="#000" stroke="#000" stroke-width="0.1" text-rendering="geometricPrecision">0.93610</text>
<text transform="translate(1601,417) scale(0.912,1)" font-size="9.8" fill="#000" stroke="#000" stroke-width="0.1" text-rendering="geometricPrecision">0.92950</text>
<text transform="translate(1601,450) scale(0.912,1)" font-size="9.8" fill="#000" stroke="#000" stroke-width="0.1" text-rendering="geometricPrecision">0.92270</text>
<text transform="translate(1601,483) scale(0.912,1)" font-size="9.8" fill="#000" stroke="#000" stroke-width="0.1" text-rendering="geometricPrecision">0.91610</text>
<text transform="translate(1601,516) scale(0.912,1)" font-size="9.8" fill="#000" stroke="#000" stroke-width="0.1" text-rendering="geometricPrecision">0.90930</text>
<text transform="translate(1601,549) scale(0.912,1)" font-size="9.8" fill="#000" stroke="#000" stroke-width="0.1" text-rendering="geometricPrecision">0.90270</text>
<text transform="translate(1601,582) scale(0.912,1)" font-size="9.8" fill="#000" stroke="#000" stroke-width="0.1" text-rendering="geometricPrecision">0.89610</text>
<rect x="1597" y="268" width="40" height="11" fill="#FF0000" shape-rendering="crispEdges"/>
<text transform="translate(1601,277) scale(0.912,1)" font-size="9.8" fill="#fff" stroke="#fff" stroke-width="0.1" text-rendering="geometricPrecision">0.95756</text>
<rect x="1597" y="334" width="40" height="11" fill="#FF0000" shape-rendering="crispEdges"/>
<text transform="translate(1601,343) scale(0.912,1)" font-size="9.8" fill="#fff" stroke="#fff" stroke-width="0.1" text-rendering="geometricPrecision">0.94406</text>
<rect x="1597" y="403" width="40" height="11" fill="#FF0000" shape-rendering="crispEdges"/>
<text transform="translate(1601,412) scale(0.912,1)" font-size="9.8" fill="#fff" stroke="#fff" stroke-width="0.1" text-rendering="geometricPrecision">0.93016</text>
<rect x="1597" y="468" width="40" height="11" fill="#00FF00" shape-rendering="crispEdges"/>
<text transform="translate(1601,477) scale(0.912,1)" font-size="9.8" fill="#fff" stroke="#fff" stroke-width="0.1" text-rendering="geometricPrecision">0.91706</text>
<rect x="1597" y="557" width="40" height="11" fill="#000000" shape-rendering="crispEdges"/>
<text transform="translate(1601,566) scale(0.912,1)" font-size="9.8" fill="#fff" stroke="#fff" stroke-width="0.1" text-rendering="geometricPrecision">0.89915</text>
<rect x="1597" y="551" width="40" height="11" fill="#0000FF" shape-rendering="crispEdges"/>
<text transform="translate(1601,560) scale(0.912,1)" font-size="9.8" fill="#fff" stroke="#fff" stroke-width="0.1" text-rendering="geometricPrecision">0.90018</text>
<g clip-path="url(#cr)" shape-rendering="crispEdges">
<path d="M3,614.5 H1595 M3,654.5 H1595" stroke="#C0C0C0" stroke-width="1" stroke-dasharray="3,3"/>
</g>
<polyline clip-path="url(#cr)" fill="none" stroke="#1E90FF" stroke-width="1" points="-0.5,629.8 3.5,631.8 7.5,627.9 11.5,624.7 15.5,623.4 19.5,630.5 23.5,631.5 27.5,640.2 31.5,641.6 35.5,639.1 39.5,638.2 43.5,642.7 47.5,637.6 51.5,632.4 55.5,635.3 59.5,627.0 63.5,624.6 67.5,625.5 71.5,623.0 75.5,622.3 79.5,623.1 83.5,622.1 87.5,620.9 91.5,637.3 95.5,646.8 99.5,642.3 103.5,643.1 107.5,637.7 111.5,639.3 115.5,642.1 119.5,645.0 123.5,644.7 127.5,643.0 131.5,649.1 135.5,645.1 139.5,646.0 143.5,651.6 147.5,647.3 151.5,651.2 155.5,643.8 159.5,641.8 163.5,642.5 167.5,645.0 171.5,646.7 175.5,642.5 179.5,649.8 183.5,652.8 187.5,656.7 191.5,658.1 195.5,658.1 199.5,653.6 203.5,649.9 207.5,646.5 211.5,651.1 215.5,644.0 219.5,646.6 223.5,640.9 227.5,639.9 231.5,641.6 235.5,643.7 239.5,647.5 243.5,651.4 247.5,652.3 251.5,644.1 255.5,644.5 259.5,640.7 263.5,643.5 267.5,638.2 271.5,640.0 275.5,636.7 279.5,637.1 283.5,638.8 287.5,630.5 291.5,628.4 295.5,640.5 299.5,645.7 303.5,646.9 307.5,641.3 311.5,635.0 315.5,630.1 319.5,628.0 323.5,625.9 327.5,624.5 331.5,625.4 335.5,625.0 339.5,626.9 343.5,623.7 347.5,619.4 351.5,618.9 355.5,618.9 359.5,620.5 363.5,617.2 367.5,620.1 371.5,630.7 375.5,631.9 379.5,632.3 383.5,634.8 387.5,632.7 391.5,646.4 395.5,649.2 399.5,652.3 403.5,658.3 407.5,661.5 411.5,661.5 415.5,664.9 419.5,670.5 423.5,670.9 427.5,672.8 431.5,666.5 435.5,657.8 439.5,638.4 443.5,638.9 447.5,637.1 451.5,643.9 455.5,629.4 459.5,624.4 463.5,618.7 467.5,617.7 471.5,616.7 475.5,622.6 479.5,623.5 483.5,626.5 487.5,636.6 491.5,641.6 495.5,643.0 499.5,637.5 503.5,636.0 507.5,632.8 511.5,629.5 515.5,626.5 519.5,628.1 523.5,627.2 527.5,633.1 531.5,632.1 535.5,636.0 539.5,637.2 543.5,635.7 547.5,634.9 551.5,640.4 555.5,636.5 559.5,632.4 563.5,635.5 567.5,634.1 571.5,634.5 575.5,632.4 579.5,630.6 583.5,628.6 587.5,626.7 591.5,627.1 595.5,626.3 599.5,627.9 603.5,627.4 607.5,638.2 611.5,645.3 615.5,642.4 619.5,638.6 623.5,630.4 627.5,628.3 631.5,628.2 635.5,634.0 639.5,633.1 643.5,631.5 647.5,636.5 651.5,633.9 655.5,630.7 659.5,631.0 663.5,632.1 667.5,634.1 671.5,631.2 675.5,641.3 679.5,634.1 683.5,631.7 687.5,631.5 691.5,633.7 695.5,639.0 699.5,635.0 703.5,641.5 707.5,644.0 711.5,643.8 715.5,644.3 719.5,642.9 723.5,644.1 727.5,649.5 731.5,639.5 735.5,640.1 739.5,645.8 743.5,652.8 747.5,655.6 751.5,659.5 755.5,642.3 759.5,639.3 763.5,642.6 767.5,643.4 771.5,641.0 775.5,641.3 779.5,640.1 783.5,641.1 787.5,644.8 791.5,647.7 795.5,643.1 799.5,641.1 803.5,642.0 807.5,642.3 811.5,638.0 815.5,642.4 819.5,643.8 823.5,643.3 827.5,643.9 831.5,644.6 835.5,648.5 839.5,649.1 843.5,652.2 847.5,648.7 851.5,649.1 855.5,644.2 859.5,645.1 863.5,648.7 867.5,637.3 871.5,638.9 875.5,644.9 879.5,645.7 883.5,643.9 887.5,650.1 891.5,655.1 895.5,658.2 899.5,660.3 903.5,660.3 907.5,661.4 911.5,663.8 915.5,665.6 919.5,666.6 923.5,667.0 927.5,660.7 931.5,648.7 935.5,652.5 939.5,659.5 943.5,651.9 947.5,646.1 951.5,647.1 955.5,643.6 959.5,642.4 963.5,647.5 967.5,648.6 971.5,649.2 975.5,648.3 979.5,651.8 983.5,654.4 987.5,640.7 991.5,643.8 995.5,637.7 999.5,638.7 1003.5,640.2 1007.5,642.1 1011.5,642.7 1015.5,643.5 1019.5,647.6 1023.5,645.6 1027.5,649.6 1031.5,640.0 1035.5,635.4 1039.5,635.7 1043.5,630.2 1047.5,633.9 1051.5,629.4 1055.5,628.1 1059.5,633.5 1063.5,639.7 1067.5,637.4 1071.5,636.8 1075.5,640.5 1079.5,637.9 1083.5,638.8 1087.5,636.0 1091.5,636.6 1095.5,635.4 1099.5,626.6 1103.5,622.4 1107.5,619.0 1111.5,616.1 1115.5,614.0 1119.5,614.8 1123.5,622.2 1127.5,627.5 1131.5,631.4 1135.5,633.1 1139.5,629.4 1143.5,629.2 1147.5,637.1 1151.5,637.5 1155.5,634.8 1159.5,633.5 1163.5,643.7 1167.5,644.4 1171.5,644.4 1175.5,635.7 1179.5,638.8 1183.5,635.6 1187.5,634.2 1191.5,635.4 1195.5,643.4 1199.5,645.6 1203.5,649.2 1207.5,643.1 1211.5,645.4 1215.5,646.2 1219.5,641.4 1223.5,642.4 1227.5,637.0 1231.5,626.6 1235.5,627.7 1239.5,627.1 1243.5,623.7 1247.5,635.1 1251.5,635.9 1255.5,642.9 1259.5,649.3 1263.5,648.9 1267.5,649.1" shape-rendering="crispEdges"/>
<text transform="translate(7,596) scale(0.944,1)" font-size="9.8" fill="#000" stroke="#000" stroke-width="0.1" text-rendering="geometricPrecision">RSI(14) 34.6443</text>
<text transform="translate(1599,594.1) scale(0.912,1)" font-size="9.8" fill="#000" stroke="#000" stroke-width="0.1" text-rendering="geometricPrecision">100</text>
<text transform="translate(1599,618.3) scale(0.912,1)" font-size="9.8" fill="#000" stroke="#000" stroke-width="0.1" text-rendering="geometricPrecision">70</text>
<text transform="translate(1599,658.1) scale(0.912,1)" font-size="9.8" fill="#000" stroke="#000" stroke-width="0.1" text-rendering="geometricPrecision">30</text>
<text transform="translate(1599,682) scale(0.912,1)" font-size="9.8" fill="#000" stroke="#000" stroke-width="0.1" text-rendering="geometricPrecision">0</text>
<g clip-path="url(#cd)" shape-rendering="crispEdges">
<path fill="#C0C0C0" d="M3,722h1v4h-1zM7,722h1v2h-1zM11,721h1v2h-1zM15,718h1v5h-1zM19,718h1v5h-1zM23,718h1v5h-1zM27,720h1v3h-1zM31,722h1v1h-1zM35,722h1v2h-1zM39,722h1v3h-1zM43,722h1v4h-1zM47,722h1v4h-1zM51,722h1v3h-1zM55,722h1v3h-1zM59,722h1v1h-1zM63,719h1v4h-1zM67,718h1v5h-1zM71,716h1v7h-1zM75,714h1v9h-1zM79,713h1v10h-1zM83,712h1v11h-1zM87,711h1v12h-1zM91,713h1v10h-1zM95,718h1v5h-1zM99,721h1v2h-1zM103,722h1v3h-1zM107,722h1v3h-1zM111,722h1v4h-1zM115,722h1v6h-1zM119,722h1v8h-1zM123,722h1v10h-1zM127,722h1v10h-1zM131,722h1v13h-1zM135,722h1v14h-1zM139,722h1v15h-1zM143,722h1v17h-1zM147,722h1v18h-1zM151,722h1v20h-1zM155,722h1v20h-1zM159,722h1v19h-1zM163,722h1v18h-1zM167,722h1v18h-1zM171,722h1v19h-1zM175,722h1v18h-1zM179,722h1v19h-1zM183,722h1v22h-1zM187,722h1v25h-1zM191,722h1v28h-1zM195,722h1v30h-1zM199,722h1v31h-1zM203,722h1v30h-1zM207,722h1v29h-1zM211,722h1v29h-1zM215,722h1v27h-1zM219,722h1v27h-1zM223,722h1v24h-1zM227,722h1v22h-1zM231,722h1v21h-1zM235,722h1v20h-1zM239,722h1v21h-1zM243,722h1v22h-1zM247,722h1v23h-1zM251,722h1v23h-1zM255,722h1v22h-1zM259,722h1v20h-1zM263,722h1v19h-1zM267,722h1v18h-1zM271,722h1v16h-1zM275,722h1v15h-1zM279,722h1v13h-1zM283,722h1v12h-1zM287,722h1v10h-1zM291,722h1v7h-1zM295,722h1v8h-1zM299,722h1v10h-1zM303,722h1v12h-1zM307,722h1v12h-1zM311,722h1v11h-1zM315,722h1v8h-1zM319,722h1v5h-1zM323,722h1v2h-1zM327,720h1v3h-1zM331,718h1v5h-1zM335,716h1v7h-1zM339,716h1v7h-1zM343,714h1v9h-1zM347,712h1v11h-1zM351,710h1v13h-1zM355,708h1v15h-1zM359,708h1v15h-1zM363,706h1v17h-1zM367,706h1v17h-1zM371,708h1v15h-1zM375,710h1v13h-1zM379,711h1v12h-1zM383,713h1v10h-1zM387,714h1v9h-1zM391,718h1v5h-1zM395,722h1v2h-1zM399,722h1v6h-1zM403,722h1v12h-1zM407,722h1v19h-1zM411,722h1v24h-1zM415,722h1v29h-1zM419,722h1v39h-1zM423,722h1v47h-1zM427,722h1v56h-1zM431,722h1v60h-1zM435,722h1v61h-1zM439,722h1v54h-1zM443,722h1v48h-1zM447,722h1v42h-1zM451,722h1v40h-1zM455,722h1v31h-1zM459,722h1v20h-1zM463,722h1v5h-1zM467,714h1v9h-1zM471,704h1v19h-1zM475,699h1v24h-1zM479,695h1v28h-1zM483,695h1v28h-1zM487,701h1v22h-1zM491,709h1v14h-1zM495,717h1v6h-1zM499,720h1v3h-1zM503,722h1v1h-1zM507,721h1v2h-1zM511,718h1v5h-1zM515,713h1v10h-1zM519,711h1v12h-1zM523,708h1v15h-1zM527,710h1v13h-1zM531,710h1v13h-1zM535,713h1v10h-1zM539,716h1v7h-1zM543,718h1v5h-1zM547,719h1v4h-1zM551,722h1v2h-1zM555,722h1v3h-1zM559,722h1v2h-1zM563,722h1v2h-1zM567,722h1v2h-1zM571,722h1v2h-1zM575,722h1v1h-1zM579,720h1v3h-1zM583,718h1v5h-1zM587,716h1v7h-1zM591,714h1v9h-1zM595,712h1v11h-1zM599,712h1v11h-1zM603,711h1v12h-1zM607,714h1v9h-1zM611,720h1v3h-1zM615,722h1v3h-1zM619,722h1v4h-1zM623,722h1v2h-1zM627,720h1v3h-1zM631,718h1v5h-1zM635,719h1v4h-1zM639,719h1v4h-1zM643,718h1v5h-1zM647,720h1v3h-1zM651,720h1v3h-1zM655,719h1v4h-1zM659,719h1v4h-1zM663,718h1v5h-1zM667,719h1v4h-1zM671,719h1v4h-1zM675,722h1v1h-1zM679,722h1v1h-1zM683,721h1v2h-1zM687,720h1v3h-1zM691,720h1v3h-1zM695,722h1v1h-1zM699,722h1v2h-1zM703,722h1v4h-1zM707,722h1v7h-1zM711,722h1v10h-1zM715,722h1v12h-1zM719,722h1v13h-1zM723,722h1v14h-1zM727,722h1v17h-1zM731,722h1v16h-1zM735,722h1v16h-1zM739,722h1v17h-1zM743,722h1v22h-1zM747,722h1v27h-1zM751,722h1v34h-1zM755,722h1v33h-1zM759,722h1v31h-1zM763,722h1v30h-1zM767,722h1v30h-1zM771,722h1v29h-1zM775,722h1v27h-1zM779,722h1v26h-1zM783,722h1v25h-1zM787,722h1v25h-1zM791,722h1v27h-1zM795,722h1v26h-1zM799,722h1v25h-1zM803,722h1v24h-1zM807,722h1v23h-1zM811,722h1v21h-1zM815,722h1v21h-1zM819,722h1v21h-1zM823,722h1v21h-1zM827,722h1v20h-1zM831,722h1v20h-1zM835,722h1v21h-1zM839,722h1v22h-1zM843,722h1v24h-1zM847,722h1v24h-1zM851,722h1v24h-1zM855,722h1v23h-1zM859,722h1v22h-1zM863,722h1v23h-1zM867,722h1v20h-1zM871,722h1v18h-1zM875,722h1v19h-1zM879,722h1v19h-1zM883,722h1v19h-1zM887,722h1v21h-1zM891,722h1v24h-1zM895,722h1v28h-1zM899,722h1v32h-1zM903,722h1v35h-1zM907,722h1v38h-1zM911,722h1v41h-1zM915,722h1v45h-1zM919,722h1v48h-1zM923,722h1v50h-1zM927,722h1v50h-1zM931,722h1v47h-1zM935,722h1v46h-1zM939,722h1v49h-1zM943,722h1v49h-1zM947,722h1v46h-1zM951,722h1v44h-1zM955,722h1v41h-1zM959,722h1v38h-1zM963,722h1v37h-1zM967,722h1v37h-1zM971,722h1v36h-1zM975,722h1v36h-1zM979,722h1v36h-1zM983,722h1v38h-1zM987,722h1v34h-1zM991,722h1v33h-1zM995,722h1v29h-1zM999,722h1v27h-1zM1003,722h1v25h-1zM1007,722h1v24h-1zM1011,722h1v23h-1zM1015,722h1v23h-1zM1019,722h1v24h-1zM1023,722h1v24h-1zM1027,722h1v25h-1zM1031,722h1v24h-1zM1035,722h1v20h-1zM1039,722h1v18h-1zM1043,722h1v14h-1zM1047,722h1v12h-1zM1051,722h1v8h-1zM1055,722h1v5h-1zM1059,722h1v4h-1zM1063,722h1v5h-1zM1067,722h1v6h-1zM1071,722h1v6h-1zM1075,722h1v7h-1zM1079,722h1v8h-1zM1083,722h1v8h-1zM1087,722h1v7h-1zM1091,722h1v7h-1zM1095,722h1v7h-1zM1099,722h1v3h-1zM1103,720h1v3h-1zM1107,715h1v8h-1zM1111,710h1v13h-1zM1115,705h1v18h-1zM1119,702h1v21h-1zM1123,701h1v22h-1zM1127,702h1v21h-1zM1131,704h1v19h-1zM1135,707h1v16h-1zM1139,708h1v15h-1zM1143,708h1v15h-1zM1147,712h1v11h-1zM1151,714h1v9h-1zM1155,716h1v7h-1zM1159,716h1v7h-1zM1163,721h1v2h-1zM1167,722h1v3h-1zM1171,722h1v6h-1zM1175,722h1v5h-1zM1179,722h1v6h-1zM1183,722h1v6h-1zM1187,722h1v5h-1zM1191,722h1v5h-1zM1195,722h1v7h-1zM1199,722h1v10h-1zM1203,722h1v13h-1zM1207,722h1v14h-1zM1211,722h1v15h-1zM1215,722h1v17h-1zM1219,722h1v16h-1zM1223,722h1v16h-1zM1227,722h1v15h-1zM1231,722h1v10h-1zM1235,722h1v7h-1zM1239,722h1v4h-1zM1243,721h1v2h-1zM1247,722h1v1h-1zM1251,722h1v1h-1zM1255,722h1v4h-1zM1259,722h1v9h-1zM1263,722h1v13h-1zM1267,722h1v16h-1z"/>
</g>
<polyline clip-path="url(#cd)" fill="none" stroke="#FF0000" stroke-width="1" points="3.5,725.2 7.5,725.0 11.5,724.4 15.5,723.7 19.5,722.8 23.5,722.0 27.5,721.4 31.5,721.0 35.5,720.8 39.5,720.6 43.5,720.8 47.5,721.3 51.5,722.0 55.5,722.8 59.5,723.3 63.5,723.2 67.5,722.8 71.5,721.9 75.5,720.9 79.5,719.5 83.5,717.9 87.5,716.4 91.5,715.2 95.5,714.8 99.5,715.0 103.5,715.6 107.5,716.6 111.5,717.9 115.5,719.5 119.5,721.4 123.5,723.7 127.5,725.7 131.5,727.4 135.5,728.9 139.5,730.2 143.5,731.7 147.5,733.2 151.5,734.7 155.5,736.0 159.5,737.0 163.5,737.9 167.5,738.5 171.5,739.0 175.5,739.4 179.5,739.7 183.5,740.1 187.5,740.7 191.5,741.6 195.5,742.9 199.5,744.3 203.5,745.7 207.5,746.8 211.5,748.1 215.5,748.9 219.5,749.5 223.5,749.4 227.5,748.8 231.5,747.7 235.5,746.5 239.5,745.5 243.5,744.7 247.5,744.1 251.5,743.6 255.5,743.0 259.5,742.6 263.5,742.2 267.5,741.9 271.5,741.5 275.5,740.8 279.5,739.8 283.5,738.5 287.5,737.1 291.5,735.4 295.5,734.1 299.5,733.0 303.5,732.4 307.5,732.0 311.5,731.5 315.5,731.0 319.5,730.2 323.5,729.4 327.5,728.5 331.5,727.3 335.5,725.7 339.5,723.8 343.5,721.6 347.5,719.4 351.5,717.2 355.5,715.3 359.5,713.6 363.5,712.0 367.5,710.7 371.5,709.7 375.5,709.1 379.5,708.7 383.5,708.9 387.5,709.4 391.5,710.5 395.5,712.1 399.5,714.4 403.5,717.5 407.5,721.0 411.5,724.9 415.5,729.2 419.5,734.5 423.5,740.5 427.5,746.9 431.5,753.4 435.5,759.5 439.5,764.1 443.5,767.4 447.5,769.4 451.5,770.7 455.5,769.7 459.5,766.7 463.5,761.1 467.5,753.7 471.5,745.0 475.5,736.5 479.5,728.3 483.5,720.8 487.5,714.0 491.5,709.3 495.5,706.7 499.5,706.0 503.5,706.8 507.5,708.7 511.5,710.9 515.5,712.9 519.5,714.6 523.5,715.5 527.5,715.5 531.5,714.8 535.5,714.0 539.5,713.4 543.5,713.0 547.5,713.2 551.5,714.2 555.5,715.7 559.5,717.3 563.5,718.8 567.5,720.2 571.5,721.2 575.5,721.9 579.5,722.1 583.5,722.1 587.5,721.3 591.5,720.2 595.5,719.1 599.5,717.8 603.5,716.5 607.5,715.5 611.5,715.3 615.5,715.7 619.5,716.5 623.5,717.3 627.5,718.0 631.5,718.7 635.5,719.5 639.5,720.4 643.5,720.8 647.5,720.8 651.5,720.4 655.5,719.7 659.5,719.2 663.5,719.0 667.5,719.1 671.5,719.0 675.5,719.3 679.5,719.7 683.5,719.8 687.5,719.8 691.5,719.9 695.5,720.3 699.5,720.8 703.5,721.5 707.5,722.6 711.5,723.6 715.5,724.8 719.5,726.2 723.5,727.8 727.5,729.8 731.5,731.4 735.5,733.0 739.5,734.5 743.5,736.1 747.5,738.1 751.5,740.6 755.5,742.9 759.5,744.8 763.5,746.3 767.5,747.8 771.5,749.3 775.5,750.4 779.5,750.8 783.5,750.5 787.5,749.5 791.5,748.7 795.5,748.2 799.5,747.6 803.5,746.9 807.5,746.3 811.5,745.6 815.5,745.0 819.5,744.6 823.5,744.1 827.5,743.4 831.5,742.8 835.5,742.4 839.5,742.2 843.5,742.3 847.5,742.6 851.5,743.1 855.5,743.3 859.5,743.5 863.5,743.8 867.5,743.8 871.5,743.5 875.5,743.1 879.5,742.5 883.5,741.9 887.5,741.5 891.5,741.6 895.5,742.2 899.5,743.3 903.5,745.0 907.5,747.2 911.5,749.7 915.5,752.5 919.5,755.8 923.5,759.0 927.5,761.9 931.5,764.0 935.5,765.5 939.5,767.0 943.5,768.1 947.5,768.7 951.5,768.6 955.5,767.8 959.5,766.4 963.5,765.0 967.5,763.9 971.5,762.8 975.5,761.3 979.5,760.0 983.5,759.0 987.5,757.9 991.5,757.1 995.5,756.1 999.5,754.9 1003.5,753.6 1007.5,752.2 1011.5,750.8 1015.5,749.3 1019.5,747.8 1023.5,746.6 1027.5,745.7 1031.5,745.1 1035.5,744.4 1039.5,743.7 1043.5,742.5 1047.5,741.2 1051.5,739.6 1055.5,737.5 1059.5,735.3 1063.5,733.1 1067.5,731.2 1071.5,729.6 1075.5,728.4 1079.5,727.7 1083.5,727.4 1087.5,727.3 1091.5,727.6 1095.5,727.8 1099.5,727.6 1103.5,726.8 1107.5,725.5 1111.5,723.5 1115.5,720.9 1119.5,717.9 1123.5,714.9 1127.5,712.0 1131.5,709.4 1135.5,707.4 1139.5,706.1 1143.5,705.3 1147.5,705.4 1151.5,706.4 1155.5,708.0 1159.5,709.7 1163.5,711.7 1167.5,713.9 1171.5,716.1 1175.5,718.2 1179.5,720.3 1183.5,722.0 1187.5,723.3 1191.5,724.4 1195.5,725.7 1199.5,726.9 1203.5,728.0 1207.5,728.9 1211.5,730.0 1215.5,731.2 1219.5,732.3 1223.5,733.6 1227.5,734.7 1231.5,735.0 1235.5,734.7 1239.5,733.6 1243.5,732.1 1247.5,730.4 1251.5,728.7 1255.5,727.4 1259.5,726.6 1263.5,726.5 1267.5,727.2" stroke-dasharray="3,3" shape-rendering="crispEdges"/>
<text transform="translate(7,700) scale(0.944,1)" font-size="9.8" fill="#000" stroke="#000" stroke-width="0.1" text-rendering="geometricPrecision">MACD(12,26,9) -0.002703 -0.000822</text>
<text transform="translate(1599,696.8) scale(0.912,1)" font-size="9.8" fill="#000" stroke="#000" stroke-width="0.1" text-rendering="geometricPrecision">0.005818</text>
<text transform="translate(1599,725.8) scale(0.912,1)" font-size="9.8" fill="#000" stroke="#000" stroke-width="0.1" text-rendering="geometricPrecision">0.00</text>
<text transform="translate(1598.6,785.5) scale(0.912,1)" font-size="9.8" fill="#000" stroke="#000" stroke-width="0.1" text-rendering="geometricPrecision">-0.011514</text>
<g shape-rendering="crispEdges">
<rect x="1596" y="585" width="1" height="1" fill="#000"/>
<rect x="1596" y="614" width="1" height="1" fill="#000"/>
<rect x="1596" y="654" width="1" height="1" fill="#000"/>
<rect x="1596" y="684" width="1" height="1" fill="#000"/>
<rect x="1596" y="690" width="1" height="1" fill="#000"/>
<rect x="1596" y="722" width="1" height="1" fill="#000"/>
<rect x="1596" y="786" width="1" height="1" fill="#000"/>
</g>
<g shape-rendering="crispEdges">
<rect x="3" y="789" width="1" height="3" fill="#000"/>
<rect x="67" y="789" width="1" height="3" fill="#000"/>
<rect x="131" y="789" width="1" height="3" fill="#000"/>
<rect x="195" y="789" width="1" height="3" fill="#000"/>
<rect x="259" y="789" width="1" height="3" fill="#000"/>
<rect x="323" y="789" width="1" height="3" fill="#000"/>
<rect x="387" y="789" width="1" height="3" fill="#000"/>
<rect x="451" y="789" width="1" height="3" fill="#000"/>
<rect x="515" y="789" width="1" height="3" fill="#000"/>
<rect x="579" y="789" width="1" height="3" fill="#000"/>
<rect x="643" y="789" width="1" height="3" fill="#000"/>
<rect x="707" y="789" width="1" height="3" fill="#000"/>
<rect x="771" y="789" width="1" height="3" fill="#000"/>
<rect x="835" y="789" width="1" height="3" fill="#000"/>
<rect x="899" y="789" width="1" height="3" fill="#000"/>
<rect x="963" y="789" width="1" height="3" fill="#000"/>
<rect x="1027" y="789" width="1" height="3" fill="#000"/>
<rect x="1091" y="789" width="1" height="3" fill="#000"/>
<rect x="1155" y="789" width="1" height="3" fill="#000"/>
<rect x="1219" y="789" width="1" height="3" fill="#000"/>
</g>
<text transform="translate(2,801) scale(0.94,1)" font-size="9.8" fill="#000" stroke="#000" stroke-width="0.1" text-rendering="geometricPrecision">6 Nov 2019</text>
<text transform="translate(66,801) scale(0.94,1)" font-size="9.8" fill="#000" stroke="#000" stroke-width="0.1" text-rendering="geometricPrecision">25 Nov 2019</text>
<text transform="translate(130,801) scale(0.94,1)" font-size="9.8" fill="#000" stroke="#000" stroke-width="0.1" text-rendering="geometricPrecision">13 Dec 2019</text>
<text transform="translate(194,801) scale(0.94,1)" font-size="9.8" fill="#000" stroke="#000" stroke-width="0.1" text-rendering="geometricPrecision">1 Jan 2020</text>
<text transform="translate(258,801) scale(0.94,1)" font-size="9.8" fill="#000" stroke="#000" stroke-width="0.1" text-rendering="geometricPrecision">20 Jan 2020</text>
<text transform="translate(322,801) scale(0.94,1)" font-size="9.8" fill="#000" stroke="#000" stroke-width="0.1" text-rendering="geometricPrecision">7 Feb 2020</text>
<text transform="translate(386,801) scale(0.94,1)" font-size="9.8" fill="#000" stroke="#000" stroke-width="0.1" text-rendering="geometricPrecision">26 Feb 2020</text>
<text transform="translate(450,801) scale(0.94,1)" font-size="9.8" fill="#000" stroke="#000" stroke-width="0.1" text-rendering="geometricPrecision">16 Mar 2020</text>
<text transform="translate(514,801) scale(0.94,1)" font-size="9.8" fill="#000" stroke="#000" stroke-width="0.1" text-rendering="geometricPrecision">3 Apr 2020</text>
<text transform="translate(578,801) scale(0.94,1)" font-size="9.8" fill="#000" stroke="#000" stroke-width="0.1" text-rendering="geometricPrecision">22 Apr 2020</text>
<text transform="translate(642,801) scale(0.94,1)" font-size="9.8" fill="#000" stroke="#000" stroke-width="0.1" text-rendering="geometricPrecision">11 May 2020</text>
<text transform="translate(706,801) scale(0.94,1)" font-size="9.8" fill="#000" stroke="#000" stroke-width="0.1" text-rendering="geometricPrecision">29 May 2020</text>
<text transform="translate(770,801) scale(0.94,1)" font-size="9.8" fill="#000" stroke="#000" stroke-width="0.1" text-rendering="geometricPrecision">17 Jun 2020</text>
<text transform="translate(834,801) scale(0.94,1)" font-size="9.8" fill="#000" stroke="#000" stroke-width="0.1" text-rendering="geometricPrecision">6 Jul 2020</text>
<text transform="translate(898,801) scale(0.94,1)" font-size="9.8" fill="#000" stroke="#000" stroke-width="0.1" text-rendering="geometricPrecision">24 Jul 2020</text>
<text transform="translate(962,801) scale(0.94,1)" font-size="9.8" fill="#000" stroke="#000" stroke-width="0.1" text-rendering="geometricPrecision">12 Aug 2020</text>
<text transform="translate(1026,801) scale(0.94,1)" font-size="9.8" fill="#000" stroke="#000" stroke-width="0.1" text-rendering="geometricPrecision">31 Aug 2020</text>
<text transform="translate(1090,801) scale(0.94,1)" font-size="9.8" fill="#000" stroke="#000" stroke-width="0.1" text-rendering="geometricPrecision">18 Sep 2020</text>
<text transform="translate(1154,801) scale(0.94,1)" font-size="9.8" fill="#000" stroke="#000" stroke-width="0.1" text-rendering="geometricPrecision">7 Oct 2020</text>
<text transform="translate(1218,801) scale(0.94,1)" font-size="9.8" fill="#000" stroke="#000" stroke-width="0.1" text-rendering="geometricPrecision">26 Oct 2020</text>
<g shape-rendering="crispEdges">
<rect x="0" y="809" width="1637" height="1" fill="#E3E3E3"/>
<rect x="0" y="811" width="1637" height="1" fill="#000"/>
<rect x="0" y="812" width="1637" height="19" fill="#F0F0F0"/>
<rect x="0" y="831" width="1637" height="1" fill="#FFFFFF"/>
<rect x="0" y="832" width="1637" height="3" fill="#F0F0F0"/>
<rect x="0" y="835" width="1637" height="1" fill="#A0A0A0"/>
<rect x="0" y="836" width="1637" height="1" fill="#E3E3E3"/>
<rect x="108" y="811" width="100" height="19" fill="#000"/>
<rect x="109" y="810" width="98" height="19" fill="#FFFFFF"/>
<rect x="312" y="814" width="1" height="14" fill="#505050"/>
<rect x="416" y="814" width="1" height="14" fill="#505050"/>
<rect x="520" y="814" width="1" height="14" fill="#505050"/>
<rect x="623" y="814" width="1" height="14" fill="#505050"/>
<rect x="716" y="814" width="1" height="14" fill="#505050"/>
<rect x="808" y="814" width="1" height="14" fill="#505050"/>
<rect x="880" y="814" width="1" height="14" fill="#505050"/>
<rect x="960" y="814" width="1" height="14" fill="#505050"/>
<rect x="1040" y="814" width="1" height="14" fill="#505050"/>
<rect x="1120" y="814" width="1" height="14" fill="#505050"/>
<rect x="1196" y="814" width="1" height="14" fill="#505050"/>
<rect x="1268" y="814" width="1" height="14" fill="#505050"/>
<rect x="1352" y="814" width="1" height="14" fill="#505050"/>
<rect x="1432" y="814" width="1" height="14" fill="#505050"/>
<rect x="1532" y="814" width="1" height="14" fill="#505050"/>
<rect x="1604" y="814" width="1" height="14" fill="#505050"/>
</g>
<text transform="translate(16.4,826) scale(0.952,1)" font-size="12.5" fill="#707070" text-rendering="geometricPrecision">EURUSD,Daily</text>
<text transform="translate(118,826) scale(0.952,1)" font-size="12.5" fill="#000" text-rendering="geometricPrecision">USDCHF,Daily</text>
<text transform="translate(219,826) scale(0.952,1)" font-size="12.5" fill="#707070" text-rendering="geometricPrecision">AUDUSD,Daily</text>
<text transform="translate(323,826) scale(0.952,1)" font-size="12.5" fill="#707070" text-rendering="geometricPrecision">USDCAD,Daily</text>
<text transform="translate(427,826) scale(0.952,1)" font-size="12.5" fill="#707070" text-rendering="geometricPrecision">USDCNH,Daily</text>
<text transform="translate(532,826) scale(0.952,1)" font-size="12.5" fill="#707070" text-rendering="geometricPrecision">EURUSD,Daily</text>
<text transform="translate(636.5,826) scale(0.952,1)" font-size="12.5" fill="#707070" text-rendering="geometricPrecision">GBPUSD,H4</text>
<text transform="translate(727,826) scale(0.952,1)" font-size="12.5" fill="#707070" text-rendering="geometricPrecision">XAUUSD,H4</text>
<text transform="translate(819.5,826) scale(0.952,1)" font-size="12.5" fill="#707070" text-rendering="geometricPrecision">HK50,H1</text>
<text transform="translate(891.3,826) scale(0.952,1)" font-size="12.5" fill="#707070" text-rendering="geometricPrecision">UK100,H1</text>
<text transform="translate(971,826) scale(0.952,1)" font-size="12.5" fill="#707070" text-rendering="geometricPrecision">UK100,H1</text>
<text transform="translate(1050.8,826) scale(0.952,1)" font-size="12.5" fill="#707070" text-rendering="geometricPrecision">GER30,H1</text>
<text transform="translate(1130.4,826) scale(0.952,1)" font-size="12.5" fill="#707070" text-rendering="geometricPrecision">FRA40,H1</text>
<text transform="translate(1206.6,826) scale(0.952,1)" font-size="12.5" fill="#707070" text-rendering="geometricPrecision">USOil,H4</text>
<text transform="translate(1278.4,826) scale(0.952,1)" font-size="12.5" fill="#707070" text-rendering="geometricPrecision">USDJPY,H1</text>
<text transform="translate(1362.4,826) scale(0.952,1)" font-size="12.5" fill="#707070" text-rendering="geometricPrecision">DJ30,Daily</text>
<text transform="translate(1442.4,826) scale(0.952,1)" font-size="12.5" fill="#707070" text-rendering="geometricPrecision">CHINA300,H1</text>
<text transform="translate(1542.7,826) scale(0.952,1)" font-size="12.5" fill="#707070" text-rendering="geometricPrecision">USOil,H1</text>
<path d="M1614,818 L1614,824 L1611,821 Z" fill="#A0A0A0"/>
<path d="M1630,818 L1630,824 L1633,821 Z" fill="#000"/>
</svg></body></html>
